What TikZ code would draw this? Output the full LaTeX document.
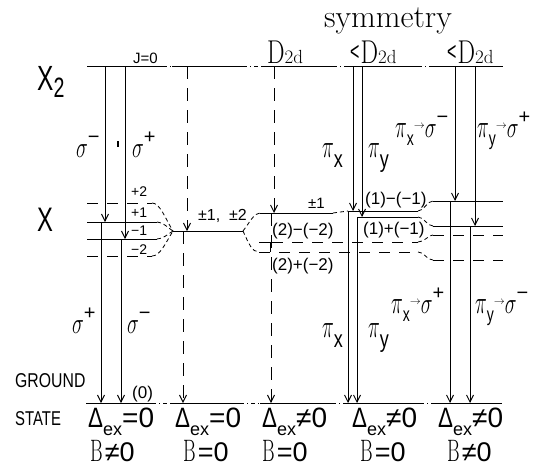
\documentclass[tikz,border=0pt]{standalone}
\usepackage{fontspec}
\setsansfont{Liberation Sans}
\usetikzlibrary{arrows.meta}
\newcommand{\fsz}[1]{\fontsize{#1}{#1}\selectfont}
\newcommand{\cnd}[2]{\scalebox{#1}[1]{#2}}
\newcommand{\gsig}{\scalebox{0.8}[1.2]{\fsz{32}$\sigma$}}
\newcommand{\gpi}{\scalebox{0.8}[1.3]{\fsz{32}$\pi$}}
\newcommand{\lsub}[1]{\raisebox{-10pt}{\scalebox{0.75}[1]{\fsz{24}\sffamily #1}}}
\newcommand{\lsup}[1]{\raisebox{14pt}{\fsz{20}\sffamily #1}}
\newcommand{\smarr}{\raisebox{9pt}{\fsz{11}$\rightarrow$}}
\newcommand{\dtd}{{\rmfamily\scalebox{0.75}[1]{\fsz{33}D}{\fsz{19}2d}}}
\newcommand{\ltsign}{\raisebox{3pt}{\scalebox{0.8}[1.3]{\fsz{20}\sffamily <}}}
\newcommand{\dex}[1]{\scalebox{0.8}[1]{\fsz{28}\sffamily Δ}\raisebox{-8pt}{\fsz{18}\sffamily ex}{\fsz{28}\sffamily #1}}
\newcommand{\bee}[1]{{\rmfamily\scalebox{0.62}[1]{\fsz{31}B}}\kern2pt{\fsz{27}\sffamily #1}}
\begin{document}
\begin{tikzpicture}[x=1pt,y=-1pt,
  lvl/.style={line width=0.9pt},
  dlvl/.style={line width=0.9pt, dash pattern=on 11pt off 9pt},
  dsh/.style={line width=0.8pt, dash pattern=on 4pt off 3pt},
  vdash/.style={line width=0.9pt, dash pattern=on 13pt off 9pt},
  brk/.style={line width=0.9pt, dash pattern=on 4pt off 3pt on 1pt off 3pt},
  arr/.style={-{Straight Barb[length=7pt,width=7pt]}},
  lbl/.style={inner sep=0pt, anchor=base west, font=\sffamily}]
\fill[white] (0,0) rectangle (542,466);
\useasboundingbox (0,0) rectangle (542,466);

% ---- top level X2 ----
\draw[lvl] (87,66) -- (163,66);
\draw[brk] (163,66) -- (172,66);
\draw[lvl] (172,66) -- (243,66);
\draw[brk] (243,66) -- (262,66);
\draw[lvl] (262,66) -- (333,66);
\draw[brk] (333,66) -- (348,66);
\draw[lvl] (348,66) -- (418,66);
\draw[brk] (418,66) -- (433,66);
\draw[lvl] (433,66) -- (503,66);

% ---- ground level ----
\draw[lvl] (86,403) -- (152,403);
\draw[brk] (152,403) -- (170,403);
\draw[lvl] (170,403) -- (240,403);
\draw[brk] (240,403) -- (260,403);
\draw[lvl] (260,403) -- (332,403);
\draw[brk] (332,403) -- (345,403);
\draw[lvl] (345,403) -- (420,403);
\draw[brk] (420,403) -- (433,403);
\draw[lvl] (433,403) -- (502,403);

% ---- X levels, column 1 ----
\draw[dlvl] (87,203) -- (152,203);
\draw[dsh] (152,203) .. controls (160,203) and (165,218) .. (173,231);
\draw[lvl] (87,222) -- (157,222);
\draw[dsh] (157,222) .. controls (163,222) and (168,228) .. (173,231);
\draw[lvl] (87,239) -- (157,239);
\draw[dsh] (157,239) .. controls (163,239) and (168,234) .. (173,231);
\draw[dlvl] (87,256) -- (152,256);
\draw[dsh] (152,256) .. controls (160,256) and (165,244) .. (173,231);

% ---- column 2 ----
\draw[lvl] (173,231) -- (243,231);

% ---- column 3 ----
\draw[dsh] (243,231) .. controls (250,222) and (254,213) .. (260,213);
\draw[dsh] (243,231) .. controls (249,244) and (252,252) .. (259,252);
\draw[lvl] (260,213) -- (333,213);
\draw[dsh] (333,213) -- (348,211);
\draw[lvl] (259,242) -- (270,242) -- (270,252);
\draw[dlvl] (259,252) -- (418,252);
\draw[dlvl] (272,242) -- (418,242);
\draw[dsh] (418,242) .. controls (425,242) and (428,235) .. (433,235);
\draw[dsh] (418,252) .. controls (425,252) and (426,260) .. (433,260);

% ---- column 4 ----
\draw[lvl] (348,211) -- (418,211);
\draw[dsh] (418,211) .. controls (424,211) and (427,201) .. (433,201);
\draw[lvl] (357,217) -- (418,217);
\draw[dsh] (418,217) .. controls (424,217) and (427,226) .. (433,226);

% ---- column 5 ----
\draw[lvl] (433,201) -- (503,201);
\draw[lvl] (433,226) -- (503,226);
\draw[dlvl] (433,235) -- (503,235);
\draw[dlvl] (433,260) -- (503,260);

% ---- arrow end points ----
\coordinate (a1t) at (105,66);  \coordinate (a1m) at (105,222);
\coordinate (b1t) at (125,66);  \coordinate (b1m) at (125,239);
\coordinate (a1s) at (101,222); \coordinate (a1g) at (101,403);
\coordinate (b1s) at (121,239); \coordinate (b1g) at (121,403);
\coordinate (c2t) at (187,66);  \coordinate (c2m) at (187,231);
\coordinate (c2s) at (183,231); \coordinate (c2g) at (183,403);
\coordinate (c3t) at (274,66);  \coordinate (c3m) at (274,213);
\coordinate (c3s) at (271,213); \coordinate (c3g) at (271,403);
\coordinate (a4t) at (353,66);  \coordinate (a4m) at (353,211);
\coordinate (b4t) at (362,66);  \coordinate (b4m) at (362,217);
\coordinate (a4s) at (348,211); \coordinate (a4g) at (348,403);
\coordinate (b4s) at (357,217); \coordinate (b4g) at (357,403);
\coordinate (a5t) at (455,66);  \coordinate (a5m) at (455,201);
\coordinate (b5t) at (475,66);  \coordinate (b5m) at (475,226);
\coordinate (a5s) at (450,201); \coordinate (a5g) at (450,403);
\coordinate (b5s) at (470,226); \coordinate (b5g) at (470,403);

\draw[lvl,arr] (a1t) -- (a1m);
\draw[lvl,arr] (b1t) -- (b1m);
\draw[lvl,arr] (a1s) -- (a1g);
\draw[lvl,arr] (b1s) -- (b1g);
\draw[vdash,arr] (c2t) -- (c2m);
\draw[vdash,arr] (c2s) -- (c2g);
\draw[vdash,arr] (c3t) -- (c3m);
\draw[vdash,arr] (c3s) -- (c3g);
\draw[lvl,arr] (a4t) -- (a4m);
\draw[lvl,arr] (b4t) -- (b4m);
\draw[lvl,arr] (a4s) -- (a4g);
\draw[lvl,arr] (b4s) -- (b4g);
\draw[lvl,arr] (a5t) -- (a5m);
\draw[lvl,arr] (b5t) -- (b5m);
\draw[lvl,arr] (a5s) -- (a5g);
\draw[lvl,arr] (b5s) -- (b5g);

\draw[line width=2pt] (118,141) -- (118,147);

% ---- labels ----
\node[lbl] (sym) at (324,27) {\fsz{32}\rmfamily symmetry};
\node[lbl] (d3) at (267,63) {\dtd};
\node[lbl] (d4) at (350,63) {\ltsign\kern1pt\dtd};
\node[lbl] (d5) at (447,63) {\ltsign\kern1pt\dtd};

\node[lbl] (x2) at (37,90) {\fsz{35}\cnd{0.7}{X\raisebox{-7pt}{\fsz{28}2}}};
\node[lbl] (xx) at (37,231) {\fsz{34}\cnd{0.7}{X}};
\node[lbl] (j0) at (133,63) {\fsz{15}J=0};

\node[lbl] (su1) at (76,157) {\gsig\lsup{−}};
\node[lbl] (su2) at (132,157) {\gsig\lsup{+}};
\node[lbl] (sl1) at (72,333) {\gsig\lsup{+}};
\node[lbl] (sl2) at (127,333) {\gsig\lsup{−}};

\node[lbl] (pu1) at (322,157) {\gpi\lsub{x}};
\node[lbl] (pu2) at (368,157) {\gpi\lsub{y}};
\node[lbl] (pl1) at (322,337) {\gpi\lsub{x}};
\node[lbl] (pl2) at (368,337) {\gpi\lsub{y}};

\node[lbl] (ps1) at (395,137) {\gpi\raisebox{-8pt}{\scalebox{0.7}[1]{\fsz{20}\sffamily x}}\smarr\gsig\lsup{−}};
\node[lbl] (ps2) at (477,137) {\gpi\raisebox{-8pt}{\scalebox{0.7}[1]{\fsz{20}\sffamily y}}\smarr\gsig\lsup{+}};
\node[lbl] (ps3) at (391,313) {\gpi\raisebox{-8pt}{\scalebox{0.7}[1]{\fsz{20}\sffamily x}}\smarr\gsig\lsup{+}};
\node[lbl] (ps4) at (475,313) {\gpi\raisebox{-8pt}{\scalebox{0.7}[1]{\fsz{20}\sffamily y}}\smarr\gsig\lsup{−}};

\node[lbl] (m2p) at (131,196) {\fsz{14}+2};
\node[lbl] (m1p) at (131,217) {\fsz{14}+1};
\node[lbl] (m1m) at (131,235) {\fsz{14}−1};
\node[lbl] (m2m) at (131,254) {\fsz{14}−2};
\node[lbl] (pm12) at (198,220) {\fsz{16}±1,\ \ ±2};
\node[lbl] (pm1) at (308,208) {\fsz{15}±1};
\node[lbl] (q1m) at (365,204) {\fsz{17}(1)−(−1)};
\node[lbl] (q1p) at (363,234) {\fsz{17}(1)+(−1)};
\node[lbl] (q2m) at (272,235) {\fsz{17}(2)−(−2)};
\node[lbl] (q2p) at (272,270) {\fsz{17}(2)+(−2)};

\node[lbl] (gr) at (15,387) {\fsz{20}\cnd{0.79}{GROUND}};
\node[lbl] (st) at (15,425) {\fsz{20}\cnd{0.745}{STATE}};
\node[lbl] (g0) at (132,398) {\fsz{17}(0)};

\node[lbl] (e1) at (88,427) {\dex{=0}};
\node[lbl] (e2) at (175,427) {\dex{=0}};
\node[lbl] (e3) at (262,427) {\dex{≠0}};
\node[lbl] (e4) at (352,427) {\dex{≠0}};
\node[lbl] (e5) at (438,427) {\dex{≠0}};
\node[lbl] (f1) at (90,461) {\bee{≠0}};
\node[lbl] (f2) at (183,461) {\bee{=0}};
\node[lbl] (f3) at (262,461) {\bee{=0}};
\node[lbl] (f4) at (360,461) {\bee{=0}};
\node[lbl] (f5) at (447,461) {\bee{≠0}};
\end{tikzpicture}
\end{document}
